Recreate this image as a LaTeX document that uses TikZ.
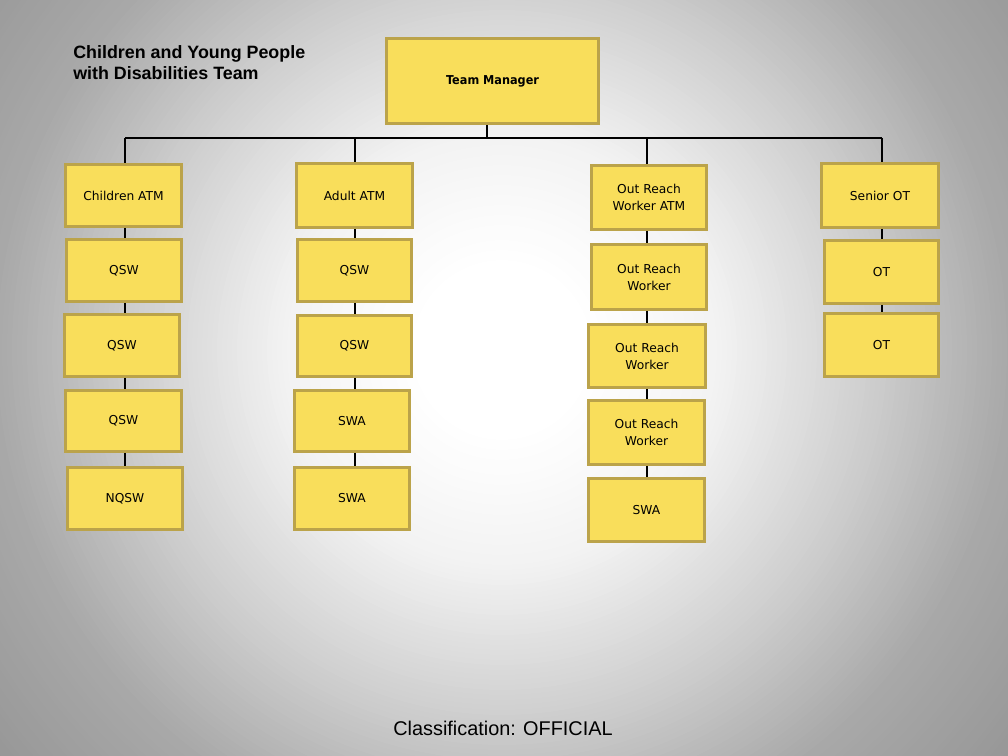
\documentclass[tikz,border=0pt]{standalone}
\usepackage{fontspec}
\newfontfamily\boxfont{DejaVu Sans}
\newfontfamily\arialfont{Liberation Sans}
\definecolor{boxfill}{HTML}{F9DE5B}
\definecolor{boxline}{HTML}{BBA34A}
\tikzset{
  box/.style={draw=boxline, fill=boxfill, line width=2.6pt, align=center, inner sep=1pt,
    font=\boxfont\fontsize{9.2pt}{12.75pt}\selectfont, text=black},
  link/.style={draw=black, line width=0.8pt}
}
\newcommand\bx[6]{%
  \pgfmathsetmacro\bxw{(#4-#2-3.5)*0.75}%
  \pgfmathsetmacro\bxh{(#5-#3-3.5)*0.75}%
  \node[box, minimum width=\bxw pt, minimum height=\bxh pt] (#1) at ({(#2+#4)/2},{(#3+#5)/2}) {#6};}
\begin{document}
\begin{tikzpicture}[x=0.75pt,y=-0.75pt]
\useasboundingbox (0,0) rectangle (1008,756);
% radial background, drawn as concentric discs
\begin{scope}
  \clip (0,0) rectangle (1008,756);
  \foreach \r in {680,675,...,5}{
    \pgfmathsetmacro\p{ifthenelse(\r<90,0,ifthenelse(\r<220,5*(\r-90)/130,ifthenelse(\r<380,5+15*(\r-220)/160,ifthenelse(\r<510,20+14*(\r-380)/130,min(41,34+6*(\r-510)/126)))))}
    \fill[black!\p] (502,350) circle[radius=\r];
  }
\end{scope}
% title
\node[anchor=west, inner sep=0pt, align=left, text=black,
  font=\arialfont\bfseries\fontsize{13.4pt}{15.75pt}\selectfont] (title) at (73,62.5)
  {Children and Young People\\with Disabilities Team};
% boxes
\bx{tm}{385}{37}{600}{125}{\scalebox{0.92}[1]{\bfseries Team Manager}}
\bx{c1}{64}{163}{183}{228}{Children ATM}
\bx{c2}{65}{238}{183}{303}{QSW}
\bx{c3}{63}{313}{181}{378}{QSW}
\bx{c4}{64}{389}{183}{453}{QSW}
\bx{c5}{66}{466}{184}{531}{NQSW}
\bx{a1}{295}{162}{414}{229}{Adult ATM}
\bx{a2}{296}{238}{413}{303}{QSW}
\bx{a3}{296}{314}{413}{378}{QSW}
\bx{a4}{293}{389}{411}{453}{SWA}
\bx{a5}{293}{466}{411}{531}{SWA}
\bx{o1}{590}{164}{708}{231}{Out Reach\\Worker ATM}
\bx{o2}{590}{243}{708}{311}{Out Reach\\Worker}
\bx{o3}{587}{323}{707}{389}{Out Reach\\Worker}
\bx{o4}{587}{399}{706}{466}{Out Reach\\Worker}
\bx{o5}{587}{477}{706}{543}{SWA}
\bx{s1}{820}{162}{940}{229}{Senior OT}
\bx{s2}{823}{239}{940}{305}{OT}
\bx{s3}{823}{312}{940}{378}{OT}
% connectors
\coordinate (k1) at (125,138);
\coordinate (k2) at (355,138);
\coordinate (k3) at (647,138);
\coordinate (k4) at (882,138);
\coordinate (kt) at (487,138);
\draw[link] (k1) -- (k4);
\draw[link] (kt |- tm.south) -- (kt);
\draw[link] (k1) -- (k1 |- c1.north);
\draw[link] (k2) -- (k2 |- a1.north);
\draw[link] (k3) -- (k3 |- o1.north);
\draw[link] (k4) -- (k4 |- s1.north);
\foreach \u/\v in {c1/c2,c2/c3,c3/c4,c4/c5}{\draw[link] (k1 |- \u.south) -- (k1 |- \v.north);}
\foreach \u/\v in {a1/a2,a2/a3,a3/a4,a4/a5}{\draw[link] (k2 |- \u.south) -- (k2 |- \v.north);}
\foreach \u/\v in {o1/o2,o2/o3,o3/o4,o4/o5}{\draw[link] (k3 |- \u.south) -- (k3 |- \v.north);}
\foreach \u/\v in {s1/s2,s2/s3}{\draw[link] (k4 |- \u.south) -- (k4 |- \v.north);}
% footer
\node[inner sep=0pt, text=black, font=\arialfont\fontsize{14.9pt}{18pt}\selectfont] (cls) at (503,728) {Classification: OFFICIAL};
\end{tikzpicture}
\end{document}
